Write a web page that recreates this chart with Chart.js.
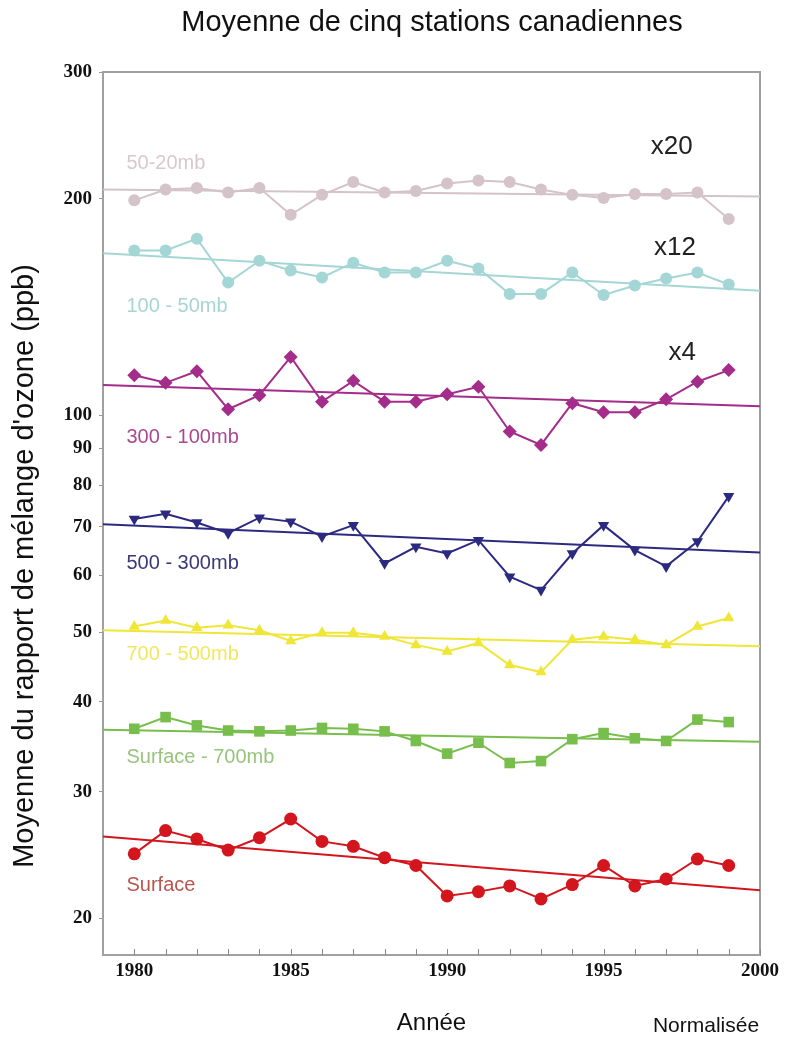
<!DOCTYPE html>
<html>
<head>
<meta charset="utf-8">
<script src="https://cdn.jsdelivr.net/npm/chart.js@4"></script>
<style>
  html, body { margin: 0; padding: 0; background: #fff; }
  #wrap { width: 788px; height: 1038px; }
</style>
</head>
<body>
<div id="wrap"><canvas id="ozone_chart"></canvas></div>
<script>
'use strict';

const years = [1980, 1981, 1982, 1983, 1984, 1985, 1986, 1987, 1988, 1989,
               1990, 1991, 1992, 1993, 1994, 1995, 1996, 1997, 1998, 1999];
const y_ticks = [20, 30, 40, 50, 60, 70, 80, 90, 100, 200, 300];
const x_labels = [1980, 1985, 1990, 1995, 2000];

// valeurs (ppb, deja normalisees)
const mb_50_20 = [199, 206, 207, 204, 207, 190, 202.5, 211, 204, 205,
                  210, 212, 211, 206, 202.5, 200.5, 203, 203, 204, 187.5];
const mb_100_50 = [169.5, 169.5, 176, 153, 164, 159, 155.5, 163, 158, 158,
                   164, 160, 147.5, 147.5, 158, 147, 151.5, 155, 158, 152];
const mb_300_100 = [113.7, 111, 115.2, 102, 106.7, 120.6, 104.5, 111.7, 104.5, 104.5,
                    107, 109.6, 95, 91, 104, 101, 101, 105.3, 111.4, 115.6];
const mb_500_300 = [71.8, 73, 71, 68.6, 72.1, 71.2, 67.9, 70.4, 62.3, 65.7,
                    64.3, 67.1, 59.7, 57.2, 64.3, 70.4, 65, 61.7, 66.8, 77.2];
const mb_700_500 = [50.9, 51.9, 50.7, 51.1, 50.3, 48.6, 49.9, 49.9, 49.3, 48,
                    47, 48.3, 45, 44, 48.8, 49.3, 48.8, 48, 50.9, 52.3];
const mb_sfc_700 = [36.7, 38.1, 37.1, 36.5, 36.4, 36.5, 36.8, 36.7, 36.4, 35.3,
                    33.9, 35.1, 32.9, 33.1, 35.5, 36.2, 35.6, 35.3, 37.8, 37.5];
const mb_surface = [24.6, 26.5, 25.8, 24.9, 25.9, 27.5, 25.6, 25.2, 24.3, 23.7,
                    21.5, 21.8, 22.2, 21.3, 22.3, 23.7, 22.2, 22.7, 24.2, 23.7];

// tendances : valeur en 1979 et en 2000
const trend_years = [1979, 2000];
const trend_50_20 = [206, 201.5];
const trend_100_50 = [168, 149];
const trend_300_100 = [110.2, 103];
const trend_500_300 = [70.6, 64.5];
const trend_700_500 = [50.3, 47.8];
const trend_sfc_700 = [36.6, 35.2];
const trend_surface = [26, 21.9];

const to_points = (xs, ys) => xs.map((x, i) => ({x: x, y: ys[i]}));

const series = [
    {label: '50-20mb', data: mb_50_20, trend: trend_50_20, color: '#d4c3c9', style: 'circle', rot: 0, r: 6, text: '#d8c8cc'},
    {label: '100 - 50mb', data: mb_100_50, trend: trend_100_50, color: '#a3d6d4', style: 'circle', rot: 0, r: 6, text: '#a8d4d4'},
    {label: '300 - 100mb', data: mb_300_100, trend: trend_300_100, color: '#a42c8a', style: 'rectRot', rot: 0, r: 7, text: '#a84a92'},
    {label: '500 - 300mb', data: mb_500_300, trend: trend_500_300, color: '#2c2a80', style: 'triangle', rot: 180, r: 6.5, text: '#3a3878'},
    {label: '700 - 500mb', data: mb_700_500, trend: trend_700_500, color: '#efe637', style: 'triangle', rot: 0, r: 6.5, text: '#f0e860'},
    {label: 'Surface - 700mb', data: mb_sfc_700, trend: trend_sfc_700, color: '#78be4c', style: 'rect', rot: 0, r: 7.5, text: '#98c47e'},
    {label: 'Surface', data: mb_surface, trend: trend_surface, color: '#d3161d', style: 'circle', rot: 0, r: 6.5, text: '#b8564e'},
];

const datasets = [];
series.forEach(s => {
    datasets.push({
        label: s.label + ' tendance',
        data: to_points(trend_years, s.trend),
        borderColor: s.color,
        borderWidth: 2,
        pointRadius: 0,
    });
    datasets.push({
        label: s.label,
        data: to_points(years, s.data),
        borderColor: s.color,
        backgroundColor: s.color,
        borderWidth: 2,
        pointStyle: s.style,
        pointRotation: s.rot,
        pointRadius: s.r,
        pointBorderWidth: 0,
    });
});

// textes dans le graphique (etiquettes de series et facteurs)
const series_labels = [
    {text: '50-20mb', year: 1979.75, value: 224},
    {text: '100 - 50mb', year: 1979.75, value: 141.5},
    {text: '300 - 100mb', year: 1979.75, value: 93.1},
    {text: '500 - 300mb', year: 1979.75, value: 62.3},
    {text: '700 - 500mb', year: 1979.75, value: 46.5},
    {text: 'Surface - 700mb', year: 1979.75, value: 33.5},
    {text: 'Surface', year: 1979.75, value: 22.2},
];
const factors = [
    {text: 'x20', year: 1997.85, value: 236},
    {text: 'x12', year: 1997.95, value: 171},
    {text: 'x4', year: 1997.95, value: 122},
];

const frame_plugin = {
    id: 'frame',
    beforeDatasetsDraw(chart) {
        const ctx = chart.ctx;
        const a = chart.chartArea;
        const xs = chart.scales.x;
        ctx.save();
        ctx.strokeStyle = '#a0a0a0';
        ctx.lineWidth = 2;
        ctx.strokeRect(a.left, a.top, a.right - a.left, a.bottom - a.top);
        ctx.lineWidth = 1;
        ctx.strokeStyle = '#888';
        for (let yr = 1980; yr <= 2000; yr++) {
            const px = Math.round(xs.getPixelForValue(yr)) + 0.5;
            ctx.beginPath();
            ctx.moveTo(px, a.bottom);
            ctx.lineTo(px, a.bottom - 6);
            ctx.stroke();
        }
        ctx.restore();
    },
    afterDatasetsDraw(chart) {
        const ctx = chart.ctx;
        const xs = chart.scales.x;
        const ys = chart.scales.y;
        ctx.save();
        ctx.textBaseline = 'middle';
        ctx.textAlign = 'left';
        ctx.font = '20px "Liberation Sans", Arial, sans-serif';
        series_labels.forEach((l, i) => {
            ctx.fillStyle = series[i].text;
            ctx.fillText(l.text, xs.getPixelForValue(l.year), ys.getPixelForValue(l.value));
        });
        ctx.fillStyle = '#222';
        ctx.textAlign = 'right';
        ctx.font = '26px "Liberation Sans", Arial, sans-serif';
        factors.forEach(f => {
            ctx.fillText(f.text, xs.getPixelForValue(f.year), ys.getPixelForValue(f.value));
        });
        ctx.restore();
    },
    afterDraw(chart) {
        const ctx = chart.ctx;
        ctx.save();
        ctx.fillStyle = '#111';
        ctx.textAlign = 'center';
        ctx.textBaseline = 'middle';
        ctx.font = '29px "Liberation Sans", Arial, sans-serif';
        ctx.fillText('Moyenne de cinq stations canadiennes', 432, 23);
        ctx.font = '21px "Liberation Sans", Arial, sans-serif';
        ctx.fillText('Normalisée', 706, 1026);
        ctx.translate(25, 566);
        ctx.rotate(-Math.PI / 2);
        ctx.font = '29px "Liberation Sans", Arial, sans-serif';
        ctx.fillText("Moyenne du rapport de mélange d'ozone (ppb)", 0, 0);
        ctx.restore();
    }
};

new Chart(document.getElementById('ozone_chart'), {
    type: 'line',
    data: {datasets: datasets},
    options: {
        responsive: true,
        maintainAspectRatio: false,
        animation: false,
        layout: {padding: {top: 72, right: 28, bottom: 0, left: 0}},
        plugins: {legend: {display: false}, tooltip: {enabled: false}},
        scales: {
            x: {
                type: 'linear',
                min: 1979,
                max: 2000,
                afterBuildTicks: (axis) => { axis.ticks = x_labels.map(v => ({value: v})); },
                afterFit: (axis) => { axis.height = 83; },
                grid: {display: false},
                border: {display: false},
                ticks: {
                    padding: -3,
                    color: '#111',
                    font: {family: '"Liberation Serif", "Times New Roman", serif', size: 19, weight: 'bold'},
                    callback: (v) => String(v),
                    maxRotation: 0,
                },
                title: {
                    display: true,
                    text: 'Année',
                    color: '#111',
                    padding: {top: 12, bottom: 0},
                    font: {family: '"Liberation Sans", Arial, sans-serif', size: 24},
                },
            },
            y: {
                type: 'logarithmic',
                min: 17.8,
                max: 300,
                afterBuildTicks: (axis) => { axis.ticks = y_ticks.map(v => ({value: v})); },
                afterFit: (axis) => { axis.width = 103; },
                grid: {display: true, drawOnChartArea: false, tickLength: 4, color: '#999'},
                border: {display: false},
                ticks: {
                    padding: 7,
                    color: '#111',
                    font: {family: '"Liberation Serif", "Times New Roman", serif', size: 19, weight: 'bold'},
                    callback: (v) => String(v),
                },
            },
        },
    },
    plugins: [frame_plugin],
});
</script>
</body>
</html>
